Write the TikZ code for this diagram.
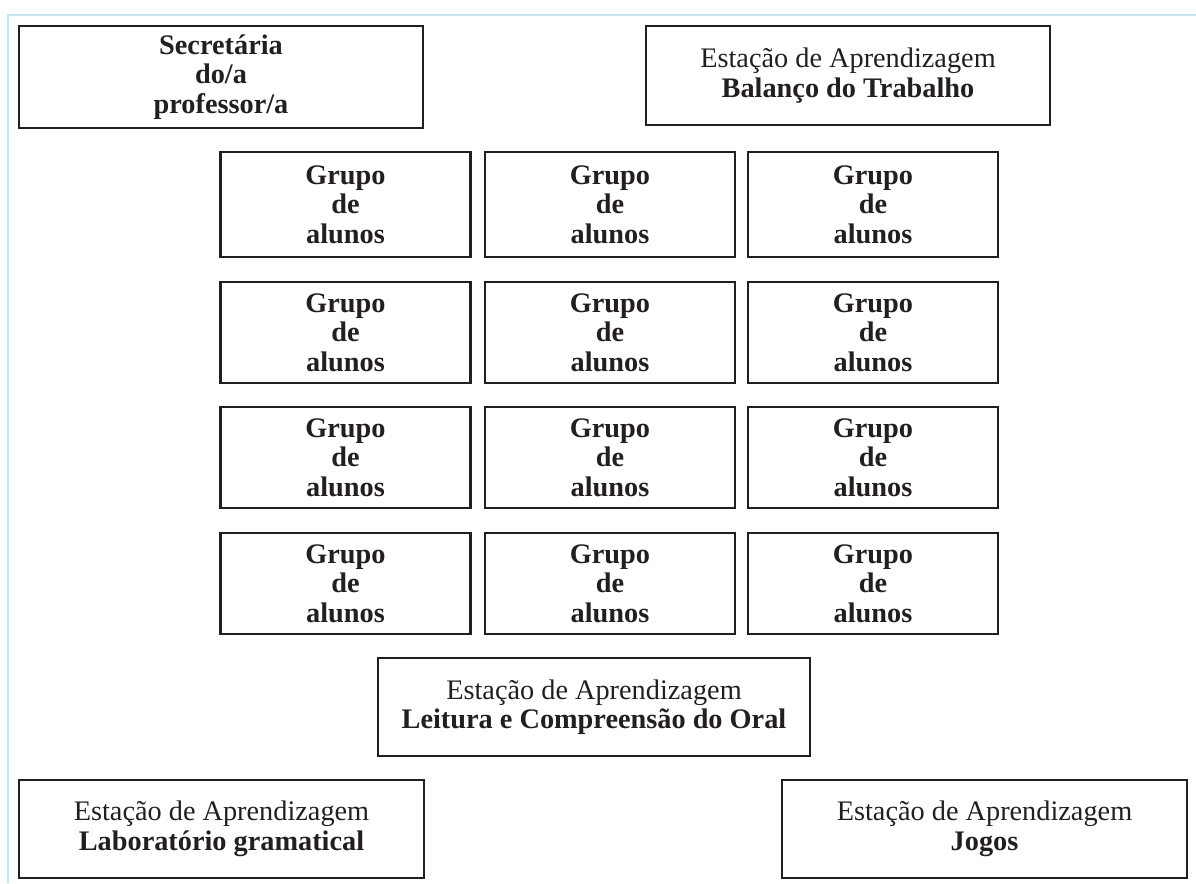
\documentclass[tikz,border=0pt]{standalone}
\usepackage{fontspec}
\setmainfont{Liberation Serif}
\definecolor{ink}{HTML}{231F20}
\definecolor{frameblue}{HTML}{BCE8F7}
\tikzset{
  plainbox/.style={draw=ink, line width=2.5pt, inner sep=0pt, align=center, text=ink,
    font=\fontsize{28.3}{29.5}\selectfont},
  grupobox/.style={plainbox, minimum width=250pt},
}
\begin{document}
\begin{tikzpicture}[x=1pt,y=-1pt]
\useasboundingbox (0,0) rectangle (1196,883);
% light blue frame
\coordinate (fb) at (8,883);
\coordinate (fc) at (8,15);
\coordinate (fe) at (1196,15);
\draw[frameblue, line width=2pt] (fb) -- (fc) -- (fe);

% top stations
\node[plainbox, minimum width=404pt, minimum height=102pt] (sec) at (221,77)
  {\textbf{Secretária}\\\textbf{do/a}\\\textbf{professor/a}};
\node[plainbox, minimum width=404pt, minimum height=99pt] (bal) at (848,75.5)
  {Estação de Aprendizagem\\\textbf{Balanço do Trabalho}};

% grid of groups
\foreach \r/\y/\h in {1/204.5/105, 2/332.5/101, 3/457.5/101, 4/583.5/101}{
  \foreach \c/\x in {1/345.5, 2/610, 3/873}{
    \node[grupobox, minimum height=\h pt] (g\r\c) at (\x,\y)
      {\textbf{Grupo}\\\textbf{de}\\\textbf{alunos}};
  }
}

% bottom stations
\node[plainbox, minimum width=432pt, minimum height=98pt] (leit) at (594,707)
  {Estação de Aprendizagem\\\textbf{Leitura e Compreensão do Oral}};
\node[plainbox, minimum width=405pt, minimum height=98pt] (lab) at (221.5,829)
  {Estação de Aprendizagem\\\textbf{Laboratório gramatical}};
\node[plainbox, minimum width=405pt, minimum height=98pt] (jog) at (984.5,829)
  {Estação de Aprendizagem\\\textbf{Jogos}};
\end{tikzpicture}
\end{document}
